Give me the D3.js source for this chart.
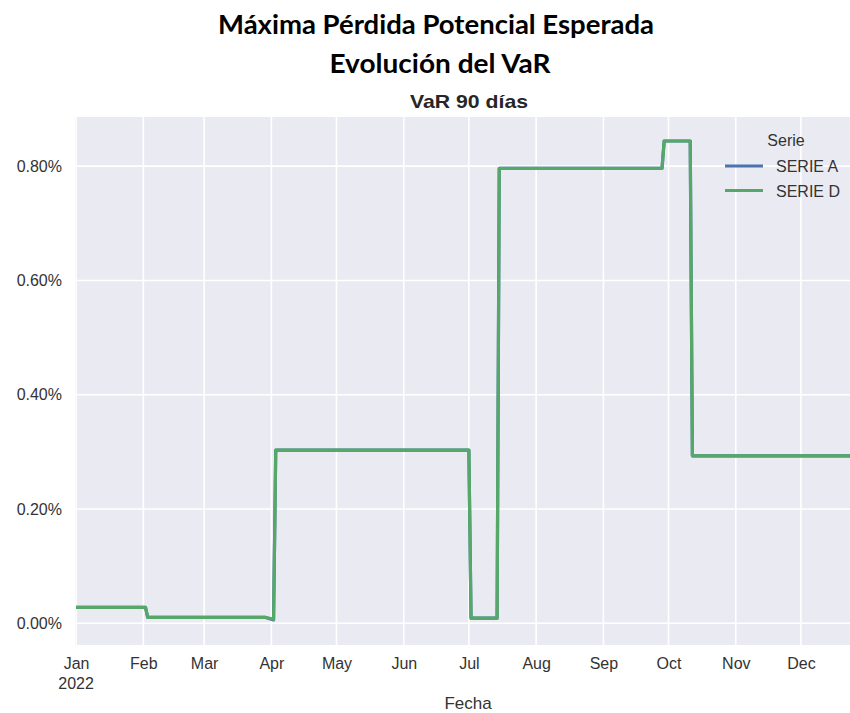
<!DOCTYPE html>
<html>
<head>
<meta charset="utf-8">
<script src="https://cdn.jsdelivr.net/npm/d3@7"></script>
<style>
  html, body { margin: 0; padding: 0; background: #ffffff; }
  svg { display: block; }
</style>
</head>
<body>
<svg id="chart" width="850" height="713"></svg>
<script>
// ---- Data (values in percent) ----
const seriesNames = ["SERIE A", "SERIE D"];
const changeDates = ["2022-01-01","2022-02-02","2022-02-03","2022-03-29","2022-04-02","2022-04-03","2022-07-01","2022-07-02","2022-07-14","2022-07-15","2022-09-28","2022-09-29","2022-10-11","2022-10-12","2022-12-31"];
const serieA = [0.028,0.028,0.0105,0.0105,0.006,0.303,0.303,0.009,0.009,0.796,0.796,0.844,0.844,0.293,0.293];
const serieD = [0.028,0.028,0.0105,0.0105,0.007,0.303,0.303,0.009,0.009,0.796,0.796,0.844,0.844,0.293,0.293];
const yTicks = [0, 0.2, 0.4, 0.6, 0.8];
const monthTicks = ["2022-01-01","2022-02-01","2022-03-01","2022-04-01","2022-05-01","2022-06-01","2022-07-01","2022-08-01","2022-09-01","2022-10-01","2022-11-01","2022-12-01"];
const monthLabels = ["Jan","Feb","Mar","Apr","May","Jun","Jul","Aug","Sep","Oct","Nov","Dec"];
const colors = ["#4C72B0", "#55A868"];

const svg = d3.select("#chart");
const parse = d3.utcParse("%Y-%m-%d");

const plot = { left: 75, right: 866, top: 117, bottom: 645 };

const x = d3.scaleUtc()
  .domain([new Date(Date.UTC(2021, 11, 31, 12)), parse("2022-12-31")])
  .range([plot.left, plot.right]);
const y = d3.scaleLinear()
  .domain([-0.038, 0.886])
  .range([plot.bottom, plot.top]);

// Titles
svg.append("text").attr("x", 436).attr("y", 34).attr("text-anchor", "middle")
  .attr("font-family", "Lato, 'Open Sans', sans-serif").attr("font-weight", "bold")
  .attr("font-size", 26).attr("fill", "#000")
  .attr("textLength", 436).attr("lengthAdjust", "spacingAndGlyphs")
  .text("Máxima Pérdida Potencial Esperada");
svg.append("text").attr("x", 440).attr("y", 73).attr("text-anchor", "middle")
  .attr("font-family", "Lato, 'Open Sans', sans-serif").attr("font-weight", "bold")
  .attr("font-size", 26).attr("fill", "#000")
  .attr("textLength", 221).attr("lengthAdjust", "spacingAndGlyphs")
  .text("Evolución del VaR");
svg.append("text").attr("x", 469).attr("y", 108).attr("text-anchor", "middle")
  .attr("font-family", "'Liberation Sans', Arial, sans-serif").attr("font-weight", "bold")
  .attr("font-size", 19).attr("fill", "#262626")
  .attr("textLength", 118).attr("lengthAdjust", "spacingAndGlyphs")
  .text("VaR 90 días");

// Plot background
svg.append("rect").attr("x", plot.left).attr("y", plot.top)
  .attr("width", plot.right - plot.left).attr("height", plot.bottom - plot.top)
  .attr("fill", "#EAEAF2");

// Grid lines
const g = svg.append("g");
g.selectAll("line.vg").data(monthTicks).join("line").attr("class", "vg")
  .attr("x1", d => x(parse(d))).attr("x2", d => x(parse(d)))
  .attr("y1", plot.top).attr("y2", plot.bottom)
  .attr("stroke", "#fff").attr("stroke-width", 1.6);
g.selectAll("line.hg").data(yTicks).join("line").attr("class", "hg")
  .attr("x1", plot.left).attr("x2", plot.right)
  .attr("y1", d => y(d)).attr("y2", d => y(d))
  .attr("stroke", "#fff").attr("stroke-width", 1.6);

// Y axis labels
const yAxis = d3.axisLeft(y).tickValues(yTicks).tickSize(0).tickPadding(13)
  .tickFormat(d => d3.format(".2f")(d) + "%");
svg.append("g").attr("transform", `translate(${plot.left},0)`).call(yAxis)
  .call(s => s.select(".domain").remove())
  .selectAll("text").attr("font-family", "'Liberation Sans', Arial, sans-serif")
  .attr("font-size", 16).attr("fill", "#333");

// X axis labels
const xAxis = d3.axisBottom(x).tickValues(monthTicks.map(parse)).tickSize(0).tickPadding(13)
  .tickFormat((d, i) => monthLabels[i]);
const xg = svg.append("g").attr("transform", `translate(0,${plot.bottom})`).call(xAxis);
xg.select(".domain").remove();
xg.selectAll("text").attr("font-family", "'Liberation Sans', Arial, sans-serif")
  .attr("font-size", 16).attr("fill", "#333");
xg.append("text").attr("x", x(parse(monthTicks[0]))).attr("y", 44)
  .attr("text-anchor", "middle").attr("font-family", "'Liberation Sans', Arial, sans-serif")
  .attr("font-size", 16).attr("fill", "#333").text("2022");

svg.append("text").attr("x", 468).attr("y", 709).attr("text-anchor", "middle")
  .attr("font-family", "'Liberation Sans', Arial, sans-serif")
  .attr("font-size", 17).attr("fill", "#333").text("Fecha");

// Lines
const line = d3.line().x(d => x(d[0])).y(d => y(d[1]));
[serieA, serieD].forEach((vals, i) => {
  const pts = changeDates.map((d, j) => [parse(d), vals[j]]);
  svg.append("path").datum(pts).attr("d", line)
    .attr("fill", "none").attr("stroke", colors[i]).attr("stroke-width", 3.2)
    .attr("stroke-linejoin", "round");
});

// Legend
const lg = svg.append("g");
lg.append("text").attr("x", 786).attr("y", 146).attr("text-anchor", "middle")
  .attr("font-family", "'Liberation Sans', Arial, sans-serif")
  .attr("font-size", 16).attr("fill", "#333").text("Serie");
seriesNames.forEach((name, i) => {
  const yy = 166 + i * 24.5;
  lg.append("line").attr("x1", 725).attr("x2", 763).attr("y1", yy).attr("y2", yy)
    .attr("stroke", colors[i]).attr("stroke-width", 3);
  lg.append("text").attr("x", 776).attr("y", yy + 6)
    .attr("font-family", "'Liberation Sans', Arial, sans-serif")
    .attr("font-size", 16).attr("fill", "#333").text(name);
});
</script>
</body>
</html>
